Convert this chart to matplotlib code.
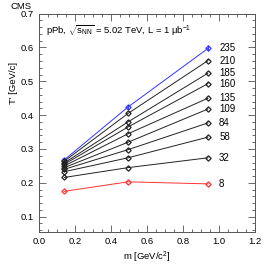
import numpy as np
import matplotlib.pyplot as plt
from matplotlib.ticker import MultipleLocator

plt.rcParams['font.family'] = ['Liberation Sans', 'DejaVu Sans']
plt.rcParams['mathtext.fontset'] = 'custom'
plt.rcParams['mathtext.rm'] = 'Liberation Sans'
plt.rcParams['mathtext.it'] = 'Liberation Sans'

# particle masses (pion, kaon, proton)
mass = [0.14, 0.494, 0.938]

# multiplicity classes and T' values for each
ntrk = [235, 210, 185, 160, 135, 109, 84, 58, 32, 8]
t_pi = [0.268, 0.264, 0.259, 0.255, 0.250, 0.245, 0.240, 0.233, 0.216, 0.175]
t_k = [0.424, 0.405, 0.380, 0.365, 0.345, 0.320, 0.298, 0.274, 0.245, 0.203]
t_p = [0.597, 0.561, 0.524, 0.493, 0.450, 0.418, 0.377, 0.335, 0.274, 0.197]
err_top = [0.004, 0.007, 0.009]

fig = plt.figure(figsize=(2.66, 2.66), dpi=100)
ax = fig.add_axes([0.147, 0.128, 0.812, 0.821])

for i, n in enumerate(ntrk):
    y = [t_pi[i], t_k[i], t_p[i]]
    if i == 0:
        col = '#3333ff'
    elif n == 8:
        col = '#ff3333'
    else:
        col = '#222222'
    ax.plot(mass, y, color=col, lw=0.7, marker='D', ms=2.7, mfc='none', mew=0.9)
    if i == 0:
        ax.errorbar(mass, y, yerr=err_top, fmt='none', ecolor=col, elinewidth=0.7)
    ax.text(1.0, t_p[i], str(n), fontsize=7, va='center', ha='left')

ax.set_xlim(0, 1.2)
ax.set_ylim(0.055, 0.7)
ax.xaxis.set_major_locator(MultipleLocator(0.2))
ax.xaxis.set_minor_locator(MultipleLocator(0.05))
ax.yaxis.set_major_locator(MultipleLocator(0.1))
ax.yaxis.set_minor_locator(MultipleLocator(0.02))
ax.tick_params(which='both', direction='in', top=True, right=True, labelsize=6.8, color='#555555', width=0.6)
ax.tick_params(which='major', length=5)
ax.tick_params(which='minor', length=2.5)
for s in ax.spines.values():
    s.set_color('#555555')
    s.set_linewidth(0.7)

ax.set_xlabel(r'm [GeV/c$^{2}$]', fontsize=6.8, labelpad=3)
ax.set_ylabel("T' [GeV/c]", fontsize=6.8, labelpad=4)
ax.yaxis.set_label_coords(-0.1, 0.68)
ax.xaxis.set_label_coords(0.5, -0.08)

fig.text(0.04, 0.975, 'CMS', fontsize=6.8, va='center', ha='left')
ax.text(0.03, 0.955, r'pPb, $\sqrt{s_{\mathrm{NN}}}$ = 5.02 TeV, L = 1 $\mu$b$^{-1}$',
        transform=ax.transAxes, fontsize=6.8, va='top', ha='left')

fig.savefig('out.png', dpi=100)
